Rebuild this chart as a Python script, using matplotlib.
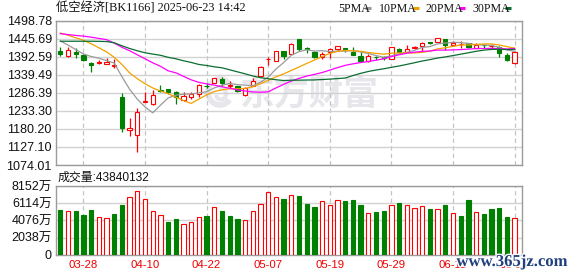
import matplotlib
matplotlib.use("Agg")
import matplotlib.pyplot as plt
import matplotlib.patheffects as pe
from matplotlib import font_manager as fm
from matplotlib.patches import Rectangle, Arc
from matplotlib.lines import Line2D
import numpy as np

# ---------------- data ----------------
title = "低空经济[BK1166] 2025-06-23 14:42"
vol_title = "成交量:43840132"

opens = [1410, 1395, 1408, 1398, 1375, 1373, 1372, 1364, 1275, 1176,
         1162, 1259, 1253, 1296, 1298, 1288, 1265, 1274, 1283, 1308,
         1315, 1328, 1306, 1306, 1280, 1308, 1336, 1385, 1381, 1410,
         1401, 1444, 1417, 1406, 1391, 1408, 1416, 1418, 1408, 1396,
         1379, 1393, 1392, 1386, 1416, 1408, 1417, 1423, 1435, 1436,
         1446, 1428, 1430, 1432, 1418, 1428, 1424, 1420, 1398, 1373]
highs = [1421, 1420, 1418, 1400, 1376, 1383, 1389, 1386, 1286, 1212,
         1241, 1288, 1294, 1310, 1299, 1291, 1288, 1288, 1311, 1314,
         1331, 1333, 1320, 1308, 1305, 1330, 1364, 1393, 1411, 1411,
         1432, 1445, 1420, 1410, 1408, 1418, 1425, 1418, 1422, 1408,
         1402, 1395, 1395, 1422, 1418, 1428, 1424, 1436, 1436, 1448,
         1446, 1440, 1438, 1433, 1432, 1430, 1430, 1424, 1404, 1407]
lows = [1396, 1393, 1389, 1381, 1347, 1372, 1370, 1359, 1171, 1158,
        1112, 1258, 1252, 1288, 1284, 1253, 1262, 1268, 1274, 1300,
        1314, 1306, 1300, 1290, 1278, 1306, 1334, 1369, 1379, 1386,
        1400, 1410, 1403, 1390, 1387, 1389, 1410, 1406, 1398, 1377,
        1378, 1384, 1384, 1385, 1407, 1407, 1416, 1411, 1429, 1435,
        1412, 1423, 1418, 1418, 1417, 1418, 1416, 1393, 1381, 1372]
closes = [1402, 1413, 1402, 1383, 1367, 1377, 1377, 1367, 1182, 1182,
          1231, 1263, 1280, 1293, 1290, 1273, 1276, 1283, 1310, 1306,
          1330, 1314, 1310, 1292, 1300, 1322, 1363, 1387, 1410, 1395,
          1430, 1416, 1415, 1391, 1401, 1416, 1423, 1416, 1399, 1379,
          1395, 1392, 1390, 1421, 1408, 1416, 1422, 1434, 1433, 1448,
          1428, 1432, 1431, 1420, 1428, 1426, 1425, 1403, 1382, 1406]

# moving-average values for the days before enough history is shown
ma5_head = [1439, 1427, 1414, 1401]
ma10_head = [1462.5, 1456, 1448.6, 1441.2, 1431, 1419, 1407.3, 1391, 1370]
ma20_head = [1460.8, 1457.8, 1455.5, 1453.4, 1450.4, 1446.6, 1443, 1432.8,
             1420.6, 1410.3, 1398.5, 1386.7, 1374.9, 1364.6, 1351.3, 1345.4,
             1335, 1324.7, 1317.3]
ma30_head = [1438.3, 1438.3, 1438.3, 1438.3, 1438.3, 1438, 1437.4, 1433.9,
             1425, 1417, 1410.3, 1404.4, 1400.5, 1397, 1391, 1386.7, 1380.8,
             1375.8, 1369.9, 1366.9, 1363.1, 1360.1, 1354.2, 1348.3, 1342.4,
             1336, 1331, 1328, 1325]

# volume in 万 (10k shares) and bar colour (R = up vs previous close, G = down)
volumes = [5297, 5139, 5178, 4704, 5297, 4428, 4309, 4823, 5890, 6798,
           7509, 6601, 5139, 4665, 3875, 4230, 3598, 3835, 4428, 4586,
           5613, 5178, 4586, 4230, 4072, 5139, 6008, 7386, 6798, 6600,
           7070, 6952, 6004, 5648, 6320, 5886, 6478, 6360, 6478, 5886,
           4902, 5060, 5178, 5886, 6123, 5886, 5530, 5767, 5412, 5412,
           5925, 4941, 4586, 6478, 5060, 4862, 5412, 5530, 4467, 4384]
vol_dir = "GRGGGRRGGRRRRRGGRRRGRGGGRRRRRGRGGGRRRGGGRGGRGRRRGRGRGGRGGGGR"

price_tick_labels = ["1074.01", "1127.10", "1180.20", "1233.30", "1286.39",
                     "1339.49", "1392.59", "1445.69", "1498.78"]
vol_tick_values = [0, 2038, 4076, 6114, 8152]
vol_tick_labels = ["0", "2038万", "4076万", "6114万", "8152万"]
date_tick_idx = [3, 11, 19, 27, 35, 43, 51, 59]
date_tick_labels = ["03-28", "04-10", "04-22", "05-07", "05-19", "05-29", "06-11", "06-23"]

ma_names = ["5PMA", "10PMA", "20PMA", "30PMA"]

# ---------------- style ----------------
RED = "#ff0000"
GREEN = "#008000"
MA_COLORS = ["#9a9a9a", "#f2a100", "#ff00ff", "#0a6e31"]
GRID = "#d2d2d2"
SPINE = "#9c9c9c"

avail = {f.name for f in fm.fontManager.ttflist}
SANS = "Liberation Sans" if "Liberation Sans" in avail else "DejaVu Sans"
SERIF = "Liberation Serif" if "Liberation Serif" in avail else "DejaVu Serif"
CJK = "Noto Sans CJK SC"

W, H = 578, 276
fig = plt.figure(figsize=(W / 100, H / 100), dpi=100)


def box(x0, y0, x1, y1):
    return [x0 / W, 1 - y1 / H, (x1 - x0) / W, (y1 - y0) / H]


ax = fig.add_axes(box(56, 20.7, 522, 165))
axv = fig.add_axes(box(56, 186, 522, 254.7))

n = len(closes)
xs = np.arange(n)
XLIM = (-0.56, n - 0.04)


def moving_avg(head, k):
    c = np.asarray(closes, dtype=float)
    out = list(head)
    for i in range(len(head), len(c)):
        out.append(c[i - k + 1:i + 1].mean())
    return np.array(out)


mas = [moving_avg(ma5_head, 5), moving_avg(ma10_head, 10),
       moving_avg(ma20_head, 20), moving_avg(ma30_head, 30)]

# ---------------- price panel ----------------
pmin, pmax = 1074.01, 1498.78
ax.set_xlim(*XLIM)
ax.set_ylim(pmin, pmax)
ax.set_yticks(np.linspace(pmin, pmax, len(price_tick_labels)))
ax.set_yticklabels(price_tick_labels, fontsize=9, family=SANS, color="#111111")
ax.set_xticks(date_tick_idx)
ax.tick_params(axis="x", labelbottom=False, length=0)
ax.tick_params(axis="y", length=0, pad=3)
ax.grid(axis="y", color=GRID, lw=1.0, zorder=1)
ax.grid(axis="x", color="#c4c4c4", lw=0.9, ls=(0, (3.5, 2.5)), zorder=1)
ax.set_axisbelow(True)
for s in ax.spines.values():
    s.set_color(SPINE)
    s.set_linewidth(1.0)

# watermark
ax.text(309 / W, 1 - 94 / H, "东方财富", transform=fig.transFigure, ha="center",
        va="center", fontsize=25, fontweight="bold", family=CJK,
        color="#e6e6eb", zorder=0.2)
ax.add_patch(Arc((220 / W, 1 - 92 / H), 24 / W, 26 / H, theta1=40, theta2=300,
                 transform=fig.transFigure, color="#e6e6eb", lw=4, zorder=0.2))
ax.add_patch(Arc((221 / W, 1 - 94 / H), 10 / W, 11 / H, theta1=200, theta2=460,
                 transform=fig.transFigure, color="#e6e6eb", lw=3, zorder=0.2))

bw = 0.56
for i in range(n):
    o, h, l, c = opens[i], highs[i], lows[i], closes[i]
    up = c >= o
    col = RED if up else GREEN
    ax.vlines(i, l, h, color=col, lw=0.9, zorder=2)
    lo, hi = min(o, c), max(o, c)
    ax.add_patch(Rectangle((i - bw / 2, lo), bw, max(hi - lo, 0.01),
                           facecolor="white" if up else col, edgecolor=col,
                           lw=0.8, zorder=3))

for m, col in zip(mas, MA_COLORS):
    ax.plot(xs, m, color=col, lw=0.9, zorder=4)

# ---------------- volume panel ----------------
axv.set_xlim(*XLIM)
axv.set_ylim(0, vol_tick_values[-1])
axv.set_yticks(vol_tick_values)
axv.set_yticklabels(vol_tick_labels, fontsize=9, family=[SANS, CJK], color="#111111")
axv.set_xticks(date_tick_idx)
axv.set_xticklabels(date_tick_labels, fontsize=8.2, family=SANS, color="#ee0000")
axv.tick_params(axis="x", length=0, pad=3.5)
axv.tick_params(axis="y", length=0, pad=3)
axv.grid(axis="y", color=GRID, lw=1.0)
axv.grid(axis="x", color="#c4c4c4", lw=0.9, ls=(0, (3.5, 2.5)))
axv.set_axisbelow(True)
for s in axv.spines.values():
    s.set_color(SPINE)
    s.set_linewidth(1.0)

face = ["white" if d == "R" else GREEN for d in vol_dir]
edge = [RED if d == "R" else GREEN for d in vol_dir]
axv.bar(xs, volumes, width=bw, color=face, edgecolor=edge, lw=0.8, zorder=3)

# ---------------- texts ----------------
fig.text(56 / W, 1 - 8.5 / H, title, ha="left", va="center", fontsize=8.8,
         family=[SERIF, CJK], color="#111111")

leg_x = [338, 379, 425, 472]
dash_x = [365, 413, 459, 505]
for name, lx, dx, col in zip(ma_names, leg_x, dash_x, MA_COLORS):
    fig.text(lx / W, 1 - 8.5 / H, name, ha="left", va="center", fontsize=8.6,
             family=SERIF, color="#111111")
    fig.add_artist(Line2D([dx / W, (dx + 6) / W], [1 - 8.3 / H, 1 - 8.3 / H],
                          transform=fig.transFigure, color=col, lw=2.2,
                          solid_capstyle="butt"))

fig.text(58 / W, 1 - 177.3 / H, vol_title, ha="left", va="center", fontsize=8.6,
         family=[SANS, CJK], color="#111111")

fig.text(512 / W, 1 - 262 / H, "www.365jz.com", ha="center", va="center",
         fontsize=12, family=SERIF, fontweight="bold", color="#1f3f7d",
         zorder=10, path_effects=[pe.withStroke(linewidth=2.0, foreground="white")])

fig.savefig("out.png", dpi=100)
